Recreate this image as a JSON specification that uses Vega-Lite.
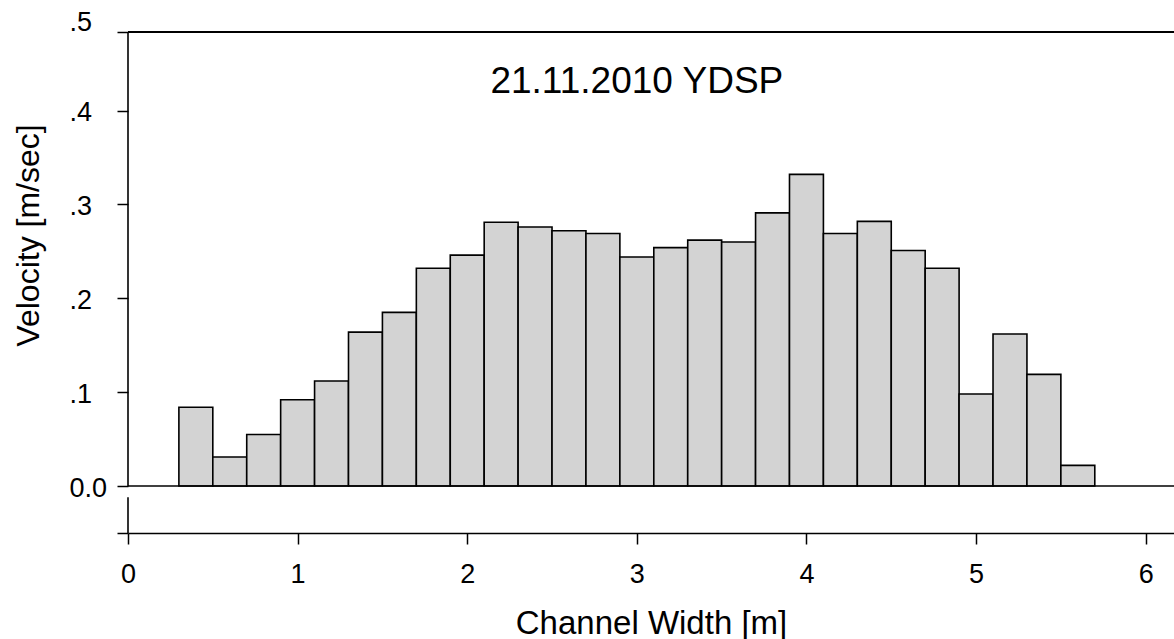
{
  "$schema": "https://vega.github.io/schema/vega-lite/v6.json",
  "width": 1046,
  "height": 501,
  "autosize": "none",
  "padding": {"left": 128, "top": 32, "right": 0, "bottom": 106},
  "background": "white",
  "config": {
    "view": {"stroke": null},
    "font": "Liberation Sans",
    "axis": {"grid": false, "labelColor": "black", "titleColor": "black", "tickColor": "black", "domainColor": "black", "titleFontWeight": "normal"}
  },
  "layer": [
    {
      "data": {
        "values": [
          {"start": 0.3, "end": 0.5, "velocity": 0.084},
          {"start": 0.5, "end": 0.7, "velocity": 0.031},
          {"start": 0.7, "end": 0.9, "velocity": 0.055},
          {"start": 0.9, "end": 1.1, "velocity": 0.092},
          {"start": 1.1, "end": 1.3, "velocity": 0.112},
          {"start": 1.3, "end": 1.5, "velocity": 0.164},
          {"start": 1.5, "end": 1.7, "velocity": 0.185},
          {"start": 1.7, "end": 1.9, "velocity": 0.232},
          {"start": 1.9, "end": 2.1, "velocity": 0.246},
          {"start": 2.1, "end": 2.3, "velocity": 0.281},
          {"start": 2.3, "end": 2.5, "velocity": 0.276},
          {"start": 2.5, "end": 2.7, "velocity": 0.272},
          {"start": 2.7, "end": 2.9, "velocity": 0.269},
          {"start": 2.9, "end": 3.1, "velocity": 0.244},
          {"start": 3.1, "end": 3.3, "velocity": 0.254},
          {"start": 3.3, "end": 3.5, "velocity": 0.262},
          {"start": 3.5, "end": 3.7, "velocity": 0.260},
          {"start": 3.7, "end": 3.9, "velocity": 0.291},
          {"start": 3.9, "end": 4.1, "velocity": 0.332},
          {"start": 4.1, "end": 4.3, "velocity": 0.269},
          {"start": 4.3, "end": 4.5, "velocity": 0.282},
          {"start": 4.5, "end": 4.7, "velocity": 0.251},
          {"start": 4.7, "end": 4.9, "velocity": 0.232},
          {"start": 4.9, "end": 5.1, "velocity": 0.098},
          {"start": 5.1, "end": 5.3, "velocity": 0.162},
          {"start": 5.3, "end": 5.5, "velocity": 0.119},
          {"start": 5.5, "end": 5.7, "velocity": 0.022}
        ]
      },
      "mark": {"type": "rect", "fill": "#d3d3d3", "stroke": "black", "strokeWidth": 1.6},
      "encoding": {
        "x": {
          "field": "start", "type": "quantitative",
          "scale": {"domain": [0, 6.167], "nice": false, "zero": false},
          "axis": {
            "values": [0, 1, 2, 3, 4, 5, 6],
            "format": "d",
            "tickSize": 11, "tickWidth": 1.5, "domainWidth": 1.6,
            "labelFontSize": 27, "labelPadding": 17, "labelBaseline": "top",
            "labelFlush": false,
            "title": "Channel Width [m]", "titleFontSize": 33,
            "titleY": 100, "titleBaseline": "alphabetic", "titleX": 523, "titleAlign": "center"
          }
        },
        "x2": {"field": "end"},
        "y": {
          "field": "velocity", "type": "quantitative",
          "scale": {"domain": [-0.05, 0.4837], "nice": false, "zero": false},
          "axis": {
            "values": [-0.05, 0, 0.1, 0.2, 0.3, 0.4, 0.4837],
            "domain": false,
            "tickSize": 11, "tickWidth": 1.5,
            "labelFontSize": 27, "labelAlign": "left", "labelPadding": 48, "labelBaseline": "middle",
            "labelOffset": {"condition": {"test": "datum.value > 0.45", "value": -10}, "value": 2},
            "labelFlush": false,
            "labelExpr": "datum.value < -0.01 ? '' : datum.value > 0.45 ? '.5' : datum.value == 0 ? '0.0' : '.' + round(datum.value * 10)",
            "title": "Velocity [m/sec]", "titleFontSize": 32,
            "titleX": -100, "titleY": 203, "titleAngle": 270, "titleAlign": "center", "titleBaseline": "middle"
          }
        },
        "y2": {"datum": 0}
      }
    },
    {
      "data": {"values": [{}]},
      "mark": {"type": "rule", "color": "black", "strokeWidth": 1.6},
      "encoding": {"y": {"datum": 0}}
    },
    {
      "data": {"values": [{}]},
      "mark": {"type": "rule", "color": "black", "strokeWidth": 2},
      "encoding": {"y": {"datum": 0.4837}}
    },
    {
      "data": {"values": [{}]},
      "mark": {"type": "rule", "color": "black", "strokeWidth": 1.6},
      "encoding": {"x": {"datum": 0}, "y": {"datum": 0}, "y2": {"datum": 0.4837}}
    },
    {
      "data": {"values": [{}]},
      "mark": {"type": "rule", "color": "black", "strokeWidth": 1.6},
      "encoding": {"x": {"datum": 0}, "y": {"datum": -0.05}, "y2": {"datum": -0.012}}
    },
    {
      "data": {"values": [{"label": "21.11.2010 YDSP"}]},
      "mark": {"type": "text", "fontSize": 37, "font": "Liberation Sans", "fill": "black", "baseline": "alphabetic", "align": "center"},
      "encoding": {
        "x": {"datum": 3.0},
        "y": {"datum": 0.419},
        "text": {"field": "label"}
      }
    }
  ]
}
